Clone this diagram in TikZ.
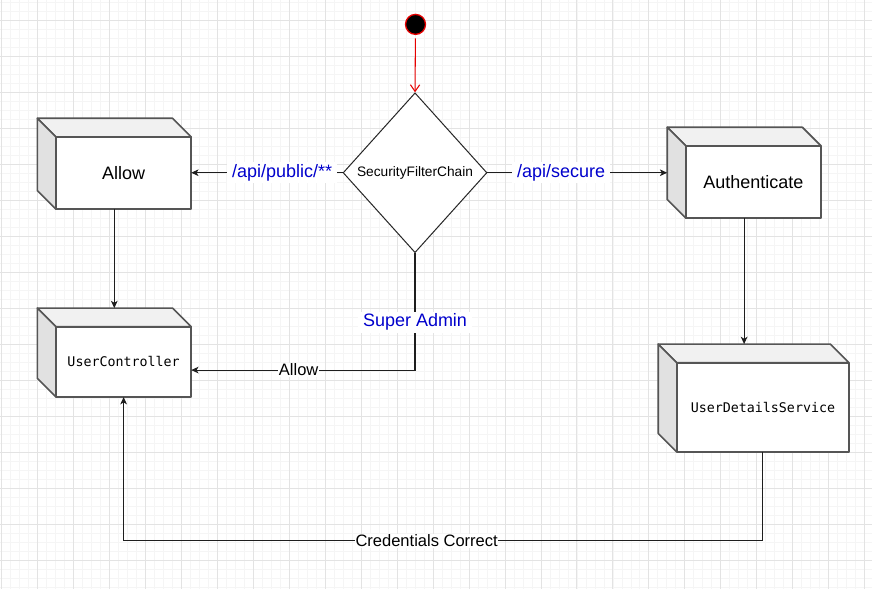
\documentclass[tikz,border=0pt]{standalone}
\usepackage{fontspec}
\setmainfont{Liberation Sans}
\newfontfamily\monofont{DejaVu Sans Mono}
\definecolor{pathblue}{RGB}{0, 0, 204}
\definecolor{cubeedge}{RGB}{85, 85, 85}
\definecolor{cubetop}{RGB}{241, 241, 241}
\definecolor{cubeside}{RGB}{225, 225, 225}
\definecolor{connline}{RGB}{30, 30, 30}
\definecolor{startred}{RGB}{230, 0, 0}
\usetikzlibrary{shapes.geometric, arrows.meta, positioning, calc}

\begin{document}
\begin{tikzpicture}[
  x=0.75pt, y=-0.75pt,
  minorgrid/.style={draw=black!4, line width=0.5pt},
  majorgrid/.style={draw=black!11, line width=0.6pt},
  cube/.style={rectangle, inner sep=0pt, outer sep=0pt, minimum width=115.5pt, minimum height=68.25pt},
  cubeface/.style={draw=cubeedge, line width=1.2pt, line join=round},
  cubetext/.style={font=\fontsize{13.5pt}{16pt}\selectfont, inner sep=0pt},
  monotext/.style={font=\monofont\fontsize{10pt}{12pt}\selectfont, inner sep=0pt},
  decision/.style={diamond, draw=black!85, line width=0.75pt, fill=white, inner sep=0pt,
    minimum width=108pt, minimum height=120pt, font=\fontsize{10.3pt}{12pt}\selectfont},
  startdot/.style={circle, fill=black, draw=startred, line width=1pt, minimum size=15pt, inner sep=0pt},
  startline/.style={draw=startred, line width=0.8pt, shorten <=2.5pt, -{Straight Barb[length=5pt, width=7pt]}},
  conn/.style={draw=connline, line width=0.8pt, -{Stealth[length=5.5pt, width=5pt, inset=1.5pt]}},
  pathlabel/.style={fill=white, text=pathblue, font=\fontsize{13.5pt}{16pt}\selectfont, inner xsep=4pt, inner ysep=1.5pt},
  flowlabel/.style={fill=white, font=\fontsize{12.4pt}{14pt}\selectfont, inner sep=0.5pt}
]
  % background and grid
  \fill[white] (0,0) rectangle (872,589);
  \foreach \gx in {1,10,...,871} \draw[minorgrid] (\gx,0) -- (\gx,589);
  \foreach \gy in {2,11,...,588} \draw[minorgrid] (0,\gy) -- (872,\gy);
  \foreach \gx in {1,37,...,871} \draw[majorgrid] (\gx,0) -- (\gx,589);
  \foreach \gy in {20,56,...,588} \draw[majorgrid] (0,\gy) -- (872,\gy);
  \useasboundingbox (0,0) rectangle (872,589);

  % start and filter chain
  \node[startdot] (start) at (415.5,24) {};
  \node[decision] (filter) at (415,172.5) {SecurityFilterChain};

  % cubes
  \node[cube] (allow) at (114,163.5) {};
  \node[cube] (auth) at (744.4,172.5) {};
  \node[cube, minimum height=66.75pt] (ctrl) at (114,352.5) {};
  \node[cube, minimum width=143.25pt, minimum height=81pt] (details) at (753.9,398) {};
  \foreach \c in {allow,auth,ctrl,details} {
    \filldraw[cubeface, fill=cubetop] (\c.north west) -- ([xshift=-14pt]\c.north east)
      -- ([yshift=-14pt]\c.north east) -- ([shift={(14pt,-14pt)}]\c.north west) -- cycle;
    \filldraw[cubeface, fill=cubeside] (\c.north west) -- ([shift={(14pt,-14pt)}]\c.north west)
      -- ([xshift=14pt]\c.south west) -- ([yshift=14pt]\c.south west) -- cycle;
    \filldraw[cubeface, fill=white] ([shift={(14pt,-14pt)}]\c.north west) rectangle (\c.south east);
  }
  \node[cubetext] (allowtxt) at ([shift={(7pt,-7pt)}]allow.center) {Allow};
  \node[cubetext] (authtxt) at ([shift={(7pt,-7pt)}]auth.center) {Authenticate};
  \node[monotext] (ctrltxt) at ([shift={(7pt,-7pt)}]ctrl.center) {UserController};
  \node[monotext] (detailstxt) at ([shift={(7pt,-7pt)}]details.center) {UserDetailsService};

  % connectors
  \draw[startline] (start) -- (filter.north);
  \draw[conn] (filter.west) -- node[pathlabel, pos=0.4] (publbl) {/api/public/**} (filter.west -| allow.east);
  \draw[conn] (filter.east) -- node[pathlabel, pos=0.41] (securelbl) {/api/secure} (filter.east -| auth.west);
  \draw[conn] (filter.south) |- node[pathlabel, pos=0.295] (adminlbl) {Super Admin}
    node[flowlabel, pos=0.76] (allowlbl) {Allow} ($(ctrl.east)+(0,17.5)$);
  \draw[conn] (allow.south) -- (ctrl.north);
  \draw[conn] (auth.south) -- (auth.south |- details.north);
  \draw[conn] ([xshift=7pt]details.south) -- ++(0,89)
    -| node[flowlabel, pos=0.263] (credlbl) {Credentials Correct} ([xshift=7pt]ctrl.south);
\end{tikzpicture}
\end{document}
